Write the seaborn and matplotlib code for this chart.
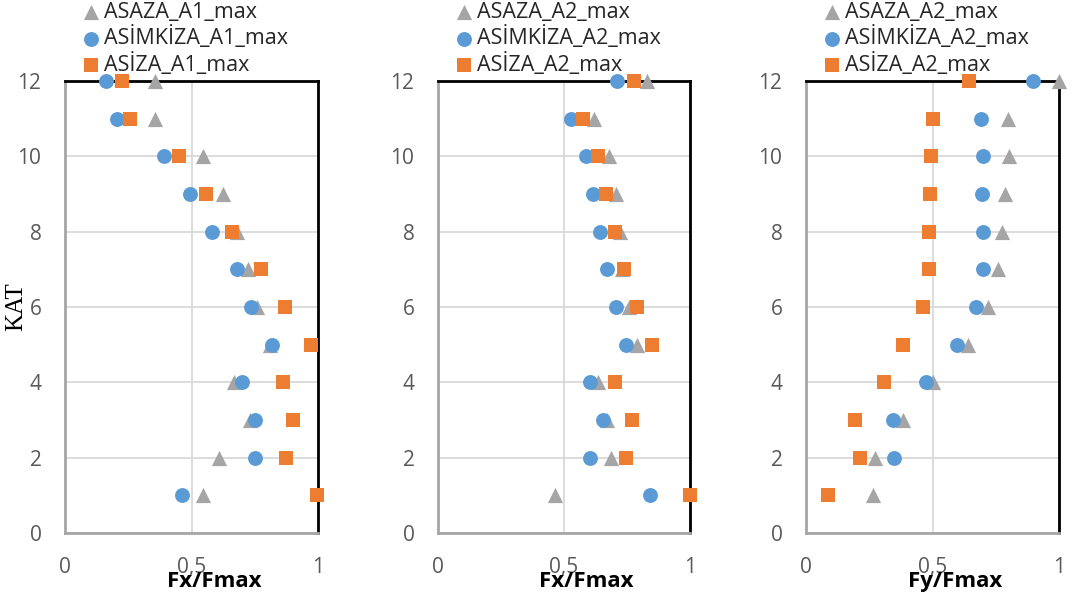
import numpy as np
import matplotlib
matplotlib.use("Agg")
import matplotlib.pyplot as plt
import seaborn as sns
from matplotlib.ticker import FixedLocator, FuncFormatter

sns.set_style("white")
plt.rcParams['font.family'] = ['Open Sans', 'DejaVu Sans']

floors = [1, 2, 3, 4, 5, 6, 7, 8, 9, 10, 11, 12]

# Panel 1 (Fx/Fmax, A1)
asaza_a1 = [0.546, 0.609, 0.733, 0.667, 0.812, 0.757, 0.725, 0.680, 0.626, 0.545, 0.354, 0.354]
asimkiza_a1 = [0.464, 0.751, 0.751, 0.699, 0.817, 0.734, 0.678, 0.582, 0.496, 0.393, 0.207, 0.162]
asiza_a1 = [0.996, 0.872, 0.901, 0.862, 0.974, 0.870, 0.776, 0.662, 0.558, 0.450, 0.257, 0.225]

# Panel 2 (Fx/Fmax, A2)
asaza_a2x = [0.465, 0.687, 0.670, 0.635, 0.789, 0.757, 0.729, 0.723, 0.707, 0.680, 0.620, 0.830]
asimkiza_a2x = [0.840, 0.604, 0.653, 0.605, 0.745, 0.707, 0.670, 0.643, 0.614, 0.587, 0.527, 0.709]
asiza_a2x = [1.000, 0.748, 0.771, 0.704, 0.848, 0.790, 0.737, 0.703, 0.668, 0.634, 0.575, 0.777]

# Panel 3 (Fy/Fmax, A2)
asaza_a2y = [0.263, 0.271, 0.383, 0.502, 0.641, 0.720, 0.757, 0.775, 0.787, 0.802, 0.797, 1.000]
asimkiza_a2y = [np.nan, 0.349, 0.342, 0.476, 0.597, 0.671, 0.699, 0.699, 0.697, 0.699, 0.691, 0.896]
asiza_a2y = [0.085, 0.215, 0.193, 0.308, 0.384, 0.464, 0.485, 0.487, 0.490, 0.495, 0.503, 0.646]

labels1 = ["ASAZA_A1_max", "ASİMKİZA_A1_max", "ASİZA_A1_max"]
labels2 = ["ASAZA_A2_max", "ASİMKİZA_A2_max", "ASİZA_A2_max"]
labels3 = ["ASAZA_A2_max", "ASİMKİZA_A2_max", "ASİZA_A2_max"]
xlabels = ["Fx/Fmax", "Fx/Fmax", "Fy/Fmax"]
x_ticks = [0, 0.5, 1]
y_ticks = [0, 2, 4, 6, 8, 10, 12]

colors = ["#A5A5A5", "#5B9BD5", "#ED7D31"]
markers = ["^", "o", "s"]
sizes = [120, 115, 110]

W, H = 1077, 603
fig = plt.figure(figsize=(W / 100, H / 100), dpi=100)

panels = [
    (65, 318, [asaza_a1, asimkiza_a1, asiza_a1], labels1, xlabels[0]),
    (438, 690, [asaza_a2x, asimkiza_a2x, asiza_a2x], labels2, xlabels[1]),
    (806, 1059, [asaza_a2y, asimkiza_a2y, asiza_a2y], labels3, xlabels[2]),
]
top_px, bot_px = 81, 533

def fmt(v, pos):
    if abs(v - round(v)) < 1e-9:
        return str(int(round(v)))
    return f"{v:g}".replace(".", ",")

for i, (l, r, series, labs, xl) in enumerate(panels):
    ax = fig.add_axes([l / W, 1 - bot_px / H, (r - l) / W, (bot_px - top_px) / H])
    for vals, lab, c, m, s in zip(series, labs, colors, markers, sizes):
        sns.scatterplot(x=vals, y=floors, ax=ax, color=c, marker=m, s=s,
                        linewidth=0, label=lab, clip_on=False, zorder=3)
    ax.set_xlim(0, 1)
    ax.set_ylim(0, 12)
    ax.xaxis.set_major_locator(FixedLocator(x_ticks))
    ax.yaxis.set_major_locator(FixedLocator(y_ticks))
    ax.xaxis.set_major_formatter(FuncFormatter(fmt))
    ax.grid(True, color="#D9D9D9", linewidth=1.3, zorder=0)
    ax.set_axisbelow(True)
    ax.tick_params(axis="both", length=0, labelsize=15, colors="#595959")
    ax.tick_params(axis="y", pad=17)
    ax.tick_params(axis="x", pad=17)
    for sp in ["left", "bottom"]:
        ax.spines[sp].set_color("#A6A6A6")
        ax.spines[sp].set_linewidth(2)
    for sp in ["top", "right"]:
        ax.spines[sp].set_color("black")
        ax.spines[sp].set_linewidth(2)
    ax.set_xlabel(xl, fontsize=16, fontweight="bold", color="black")
    ax.xaxis.set_label_coords(0.59, -0.085)
    if i == 0:
        ax.set_ylabel("KAT", fontsize=18, family=["Liberation Serif"], color="black")
        ax.yaxis.set_label_coords(-0.15, 0.5)
    else:
        ax.set_ylabel("")
    leg = ax.legend(loc="upper left", bbox_to_anchor=((l + 15) / W, 0.997),
                    bbox_transform=fig.transFigure, frameon=False, fontsize=15.5,
                    borderpad=0, borderaxespad=0, handletextpad=0.1,
                    labelspacing=0.17, handlelength=1.0, markerscale=1.0)
    for t in leg.get_texts():
        t.set_color("#262626")

fig.savefig("out.png", dpi=100)
